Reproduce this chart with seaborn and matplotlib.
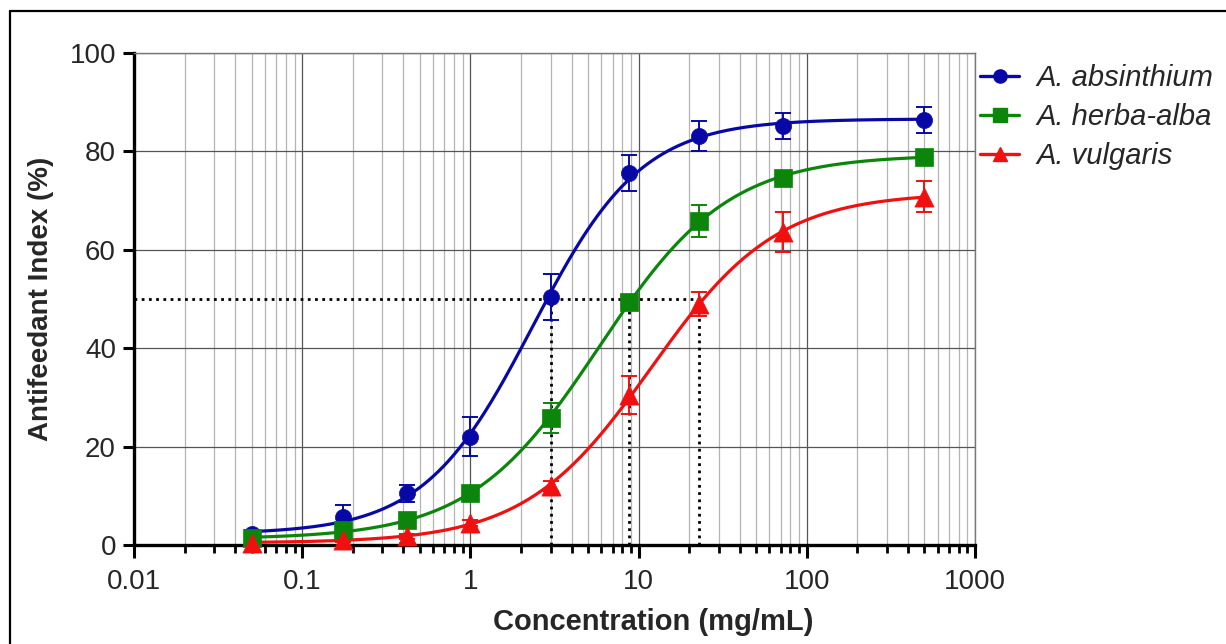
import numpy as np
import pandas as pd
import matplotlib
matplotlib.use("Agg")
import matplotlib.pyplot as plt
import seaborn as sns
from matplotlib.lines import Line2D
from matplotlib.ticker import LogLocator, NullFormatter, FixedLocator, FixedFormatter

# ---------------- data ----------------
conc = [0.05, 0.175, 0.42, 1.0, 3.0, 8.8, 23.0, 72.0, 500.0]
species = ["A. absinthium", "A. herba-alba", "A. vulgaris"]
absinthium = [2.3, 5.7, 10.5, 22.0, 50.4, 75.6, 83.1, 85.2, 86.4]
absinthium_err = [0.8, 2.5, 1.7, 4.0, 4.7, 3.7, 3.0, 2.6, 2.6]
herba_alba = [1.4, 3.0, 5.0, 10.6, 25.8, 49.4, 65.9, 74.6, 78.9]
herba_alba_err = [0.5, 0.8, 1.0, 1.0, 3.0, 1.0, 3.3, 1.5, 1.0]
vulgaris = [0.5, 1.0, 1.8, 4.5, 12.0, 30.5, 49.0, 63.6, 70.8]
vulgaris_err = [0.3, 0.4, 0.5, 0.6, 1.0, 3.9, 2.5, 4.0, 3.2]
ic50 = [3.0, 8.8, 23.0]
x_ticks = [0.01, 0.1, 1, 10, 100, 1000]
x_ticklabels = ["0.01", "0.1", "1", "10", "100", "1000"]
y_ticks = [0, 20, 40, 60, 80, 100]

values = [absinthium, herba_alba, vulgaris]
errors = [absinthium_err, herba_alba_err, vulgaris_err]
colors = ["#0808A6", "#0B860B", "#F01010"]
markers = ["o", "s", "^"]
msizes = [135, 165, 190]

# ---------------- style ----------------
sns.set_theme(style="white")
plt.rcParams["font.family"] = ["Liberation Sans", "DejaVu Sans"]

fig = plt.figure(figsize=(12.26, 6.44), dpi=100)
ax = fig.add_axes([134 / 1226, 1 - 545 / 644, (975 - 134) / 1226, (545 - 53) / 644])


def hill_fit(x, y, err):
    """Weighted least-squares four-parameter logistic fit of the read data points."""
    lx = np.log10(np.asarray(x))[None, None, :]
    y = np.asarray(y)
    w = 1.0 / np.asarray(err)
    lec = np.arange(-1.0, 2.5, 0.005)[:, None, None]
    h = np.arange(0.5, 3.0, 0.01)[None, :, None]
    f = 1.0 / (1.0 + 10 ** ((lec - lx) * h))
    ws = w.sum()
    fm = (f * w).sum(axis=2, keepdims=True) / ws
    ym = (y * w).sum() / ws
    cov = (w * (f - fm) * (y - ym)).sum(axis=2)
    var = (w * (f - fm) ** 2).sum(axis=2)
    span = cov / var
    base = ym - span * fm[..., 0]
    pred = base[..., None] + span[..., None] * f
    sse = (w * (pred - y) ** 2).sum(axis=2)
    i, j = np.unravel_index(np.argmin(sse), sse.shape)
    return lec[i, 0, 0], h[0, j, 0], base[i, j], span[i, j]


xs = np.logspace(np.log10(conc[0]), np.log10(conc[-1]), 400)
for name, vals, errs, col, mk, ms in zip(species, values, errors, colors, markers, msizes):
    lec, hh, b, s = hill_fit(conc, vals, errs)
    curve = pd.DataFrame({"x": xs, "y": b + s / (1 + 10 ** ((lec - np.log10(xs)) * hh))})
    sns.lineplot(data=curve, x="x", y="y", color=col, lw=2.3, ax=ax, zorder=4)
    ax.errorbar(conc, vals, yerr=errs, fmt="none", ecolor=col, elinewidth=1.4,
                capsize=6, capthick=1.4, zorder=5, clip_on=False)
    pts = pd.DataFrame({"x": conc, "y": vals})
    sns.scatterplot(data=pts, x="x", y="y", color=col, marker=mk, s=ms,
                    edgecolor=col, linewidth=0.5, ax=ax, zorder=6, clip_on=False)

# IC50 dotted drop lines
ax.plot([0.01, max(ic50)], [50, 50], color="black", ls=(0, (1, 1.6)), lw=2.0, zorder=3)
for c in ic50:
    ax.plot([c, c], [0, 50], color="black", ls=(0, (1, 1.6)), lw=2.0, zorder=3)

ax.set_xscale("log")
ax.set_xlim(0.01, 1000)
ax.set_ylim(0, 100)
ax.xaxis.set_major_locator(FixedLocator(x_ticks))
ax.xaxis.set_major_formatter(FixedFormatter(x_ticklabels))
ax.xaxis.set_minor_locator(LogLocator(base=10, subs=np.arange(2, 10)))
ax.xaxis.set_minor_formatter(NullFormatter())
ax.set_yticks(y_ticks)

ax.grid(which="major", axis="both", color="#555555", lw=0.9, zorder=0)
ax.grid(which="minor", axis="x", color="#b4b4b4", lw=0.9, zorder=0)
ax.set_axisbelow(True)

for side in ["left", "bottom"]:
    ax.spines[side].set_color("black")
    ax.spines[side].set_linewidth(2.4)
for side in ["top", "right"]:
    ax.spines[side].set_color("#777777")
    ax.spines[side].set_linewidth(1.0)

ax.tick_params(axis="x", which="major", direction="out", length=9, width=2.2,
               color="black", labelsize=20, pad=8, bottom=True)
ax.tick_params(axis="x", which="minor", direction="out", length=6, width=2.0,
               color="black", bottom=True)
ax.tick_params(axis="y", which="major", direction="out", length=8, width=2.2,
               color="black", labelsize=20, pad=5, left=True)

ax.set_xlabel("Concentration (mg/mL)", fontsize=21, fontweight="bold")
ax.xaxis.set_label_coords((653 - 134) / 841, -(622 - 545) / 492 , transform=ax.transAxes)
ax.xaxis.label.set_va("center")
ax.set_ylabel("Antifeedant Index (%)", fontsize=20, fontweight="bold")
ax.yaxis.set_label_coords(-(134 - 41) / 841, 0.5, transform=ax.transAxes)
ax.yaxis.label.set_va("center")

handles = [Line2D([0], [0], color=c, lw=2.4, marker=m, markersize=9.5,
                  markeredgecolor=c) for c, m in zip(colors, markers)]
fig.legend(handles, species, loc="upper left",
           bbox_to_anchor=(980 / 1226, 1 - 64 / 644), frameon=False,
           prop={"size": 21, "style": "italic"}, handlelength=1.35,
           handletextpad=0.6, labelspacing=0.38, borderaxespad=0, borderpad=0)

# outer frame (top and left edges, as in the reference)
fig.add_artist(Line2D([10 / 1226, 1], [1 - 11 / 644] * 2, transform=fig.transFigure,
                      color="black", lw=1.6))
fig.add_artist(Line2D([10 / 1226] * 2, [0, 1 - 11 / 644], transform=fig.transFigure,
                      color="black", lw=1.6))

fig.savefig("out.png", dpi=100)
